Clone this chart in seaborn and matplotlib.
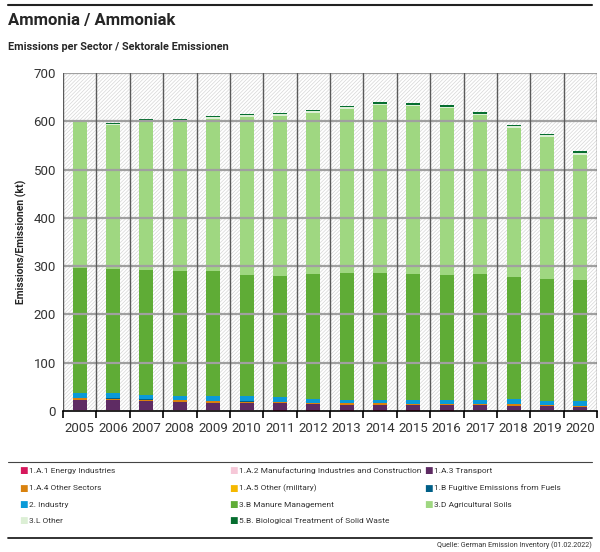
"""Ammonia emissions per sector, stacked bars."""

import matplotlib
matplotlib.use("Agg")
import matplotlib.pyplot as plt
import matplotlib.patches as mpatches
from matplotlib.lines import Line2D
import numpy as np
import pandas as pd
import seaborn as sns

years = [str(y) for y in range(2005, 2021)]

energy = [1.0, 1.0, 1.0, 1.0, 1.0, 1.0, 1.1, 1.1, 1.1, 1.1, 1.1, 1.1, 1.0, 1.0, 0.9, 0.8]
manufacturing = [0.5, 0.5, 0.5, 0.5, 0.5, 0.5, 0.5, 0.5, 0.5, 0.5, 0.5, 0.5, 0.5, 0.5, 0.5, 0.5]
transport = [22, 21, 19, 18, 16, 15, 14, 12, 11, 11, 10, 10, 10, 9, 8, 7]
other_sectors = [3, 3, 3, 3, 3, 3, 3, 3, 3, 3, 3, 3, 3, 3, 2.5, 2.5]
military = [0.1] * 16
fugitive = [0.5, 0.5, 0.5, 0.5, 0.5, 0.5, 0.5, 0.4, 0.4, 0.4, 0.4, 0.4, 0.4, 0.4, 0.4, 0.4]
industry = [10, 12, 10, 9, 11, 10, 9, 7.5, 7.5, 7.5, 7.5, 7.5, 8.5, 10, 8.5, 9.5]
manure = [260, 255, 258, 258, 258, 252, 252, 260, 262, 263, 262, 260, 261, 254, 253, 250]
soils = [302, 300, 307, 310, 315, 327, 331, 333, 340, 347, 347, 345, 328, 309, 294, 260]
other_3l = [2, 2, 3, 3, 3, 3, 3, 3, 3, 3, 3, 3, 3, 3, 3, 3]
waste = [1, 2, 2, 2, 2, 2, 2, 2, 3, 3, 3, 3, 3, 3, 3, 4]

series = [
    ("1.A.1 Energy Industries", energy, "#d6185c"),
    ("1.A.2 Manufacturing Industries and Construction", manufacturing, "#f6c8d8"),
    ("1.A.3 Transport", transport, "#5e2b63"),
    ("1.A.4 Other Sectors", other_sectors, "#d9820e"),
    ("1.A.5 Other (military)", military, "#f5b800"),
    ("1.B Fugitive Emissions from Fuels", fugitive, "#005f87"),
    ("2. Industry", industry, "#0a9ad8"),
    ("3.B Manure Management", manure, "#5fac36"),
    ("3.D Agricultural Soils", soils, "#9fd781"),
    ("3.L Other", other_3l, "#dcefd5"),
    ("5.B. Biological Treatment of Solid Waste", waste, "#056d2f"),
]

sns.set_theme(style="white")
plt.rcParams["font.family"] = ["Roboto", "DejaVu Sans"]
plt.rcParams["hatch.linewidth"] = 0.5

fig = plt.figure(figsize=(6.0, 5.52), dpi=100)
ax = fig.add_axes([63 / 600, 1 - 411 / 552, 534 / 600, 338 / 552])

# hatched background
ax.add_patch(mpatches.Rectangle((0, 0), 1, 1, transform=ax.transAxes, facecolor="white",
                                edgecolor="#d6d6d6", hatch="/////////", lw=0, zorder=0))

# stacked bars: draw cumulative totals from the top series down
cum = np.cumsum([s[1] for s in series], axis=0)
for i in range(len(series) - 1, -1, -1):
    df = pd.DataFrame({"year": years, "value": cum[i]})
    sns.barplot(data=df, x="year", y="value", color=series[i][2], saturation=1,
                width=0.42, ax=ax, zorder=2, linewidth=0)

ax.set_xlim(-0.5, len(years) - 0.5)
ax.set_ylim(0, 700)
ax.set_yticks(range(0, 701, 100))
for v in range(100, 701, 100):
    ax.axhline(v, color="#a0a0a0", lw=1.6, zorder=3)
for b in np.arange(-0.5, len(years), 1.0):
    ax.axvline(b, color="#5a5a5a", lw=1.0, zorder=3)
for s in ["top", "right", "left"]:
    ax.spines[s].set_visible(False)
ax.spines["bottom"].set_color("black")
ax.spines["bottom"].set_linewidth(1.2)
ax.spines["bottom"].set_zorder(4)

ax.set_xticks(np.arange(-0.5, len(years), 1.0), minor=True)
ax.tick_params(axis="x", which="minor", length=5, width=1.2, color="black", direction="out", bottom=True)
ax.tick_params(axis="x", which="major", length=0, labelsize=9.5, pad=8)
ax.tick_params(axis="y", length=0, labelsize=9.5, pad=5)
ax.set_xlabel("")
ax.set_ylabel("Emissions/Emissionen (kt)", fontsize=7.5, fontweight="bold", labelpad=5)
for lab in ax.get_xticklabels() + ax.get_yticklabels():
    lab.set_color("#333333")

# titles and rules
fig.add_artist(Line2D([8 / 600, 592 / 600], [1 - 5 / 552] * 2, color="#222222", lw=1.5))
fig.text(8 / 600, 1 - 20 / 552, "Ammonia / Ammoniak", fontsize=12, fontweight="bold", va="center")
fig.text(8 / 600, 1 - 47 / 552, "Emissions per Sector / Sektorale Emissionen", fontsize=7.8,
         fontweight="bold", va="center")

fig.add_artist(Line2D([8 / 600, 592 / 600], [1 - 462 / 552] * 2, color="#444444", lw=0.8))
fig.add_artist(Line2D([8 / 600, 592 / 600], [1 - 538 / 552] * 2, color="#222222", lw=1.3))

# legend laid out row-wise in three columns
col_x = [19, 229, 424]
row_y = [471, 488, 505, 521]
for k, (name, _, color) in enumerate(series):
    r, c = divmod(k, 3)
    fig.text(col_x[c] / 600, 1 - row_y[r] / 552, "\u25a0", color=color, fontsize=6.5,
             va="center", family="DejaVu Sans")
    fig.text((col_x[c] + 10) / 600, 1 - row_y[r] / 552, name, fontsize=6.0, va="center",
             color="#333333")

fig.text(592 / 600, 1 - 545 / 552, "Quelle: German Emission Inventory (01.02.2022)", fontsize=5.2,
         ha="right", va="center", color="#333333")

fig.savefig("out.png", dpi=100)
